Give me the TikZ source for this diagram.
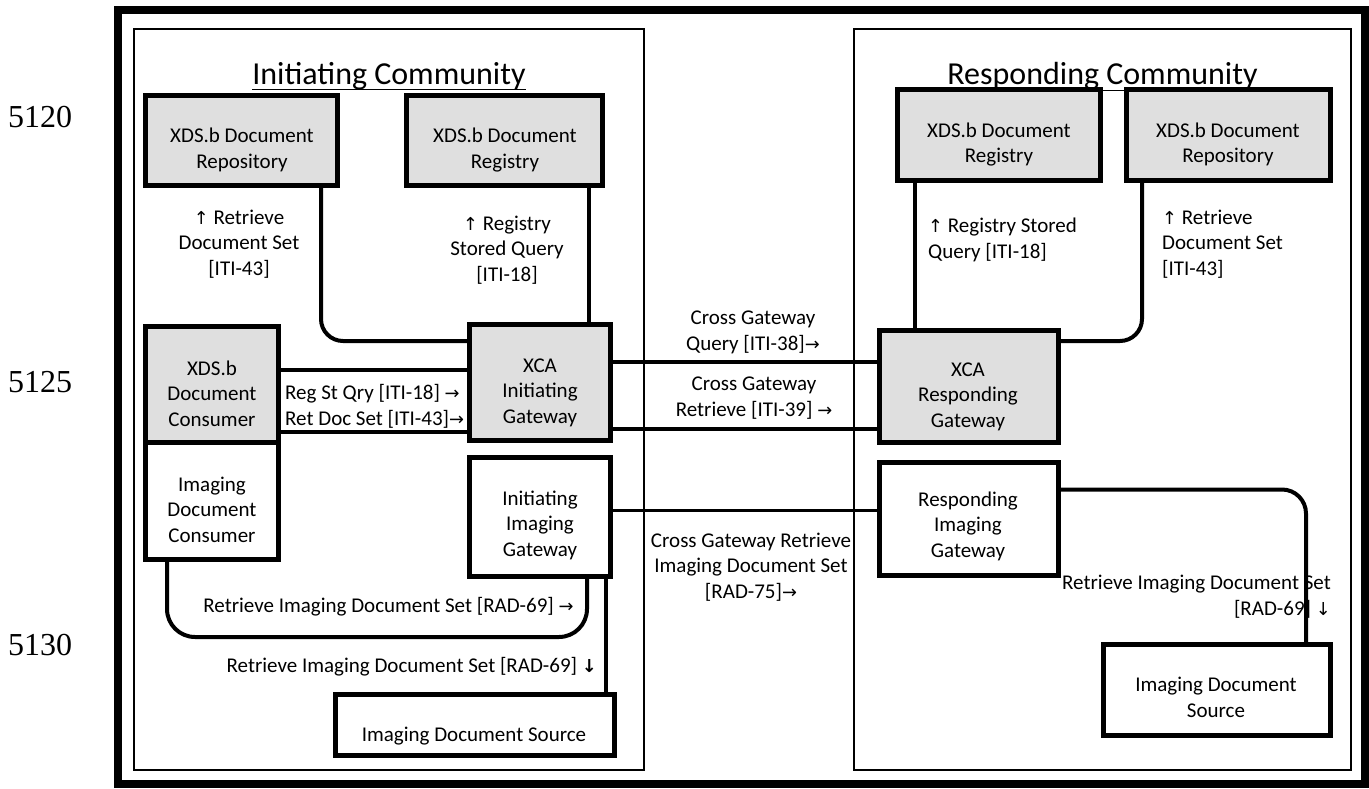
\documentclass[tikz,border=0pt]{standalone}
\usepackage{fontspec}
\setmainfont{Carlito}
\newfontfamily\arr{DejaVu Sans}[Scale=0.85]
\newfontfamily\lnumfont{Liberation Serif}
\definecolor{boxgray}{RGB}{223,223,223}
\begin{document}
\begin{tikzpicture}[x=1pt,y=-1pt,
 frame/.style={draw=black,line width=8pt},
 comm/.style={draw=black,line width=1.5pt},
 actor/.style={draw=black,line width=5pt,inner sep=0pt,outer sep=0pt},
 grayactor/.style={actor,fill=boxgray},
 whiteactor/.style={actor,fill=white},
 conn/.style={draw=black,line width=4pt},
 thinconn/.style={draw=black,line width=3pt},
 txt/.style={inner sep=0pt,font=\fontsize{21}{25.5}\selectfont,anchor=base},
 ctxt/.style={txt,align=center},
 ltxt/.style={txt,align=left,anchor=base west},
 rtxt/.style={txt,align=right,anchor=base east},
 titletxt/.style={inner sep=0pt,font=\fontsize{32}{38}\selectfont,anchor=base},
 linenum/.style={inner sep=0pt,font=\lnumfont\fontsize{32}{38}\selectfont,anchor=base west}]
\useasboundingbox (0,0) rectangle (1369,789);
\fill[white] (0,0) rectangle (1369,789);

% line numbers
\node[linenum] (n5120) at (8,128) {5120};
\node[linenum] (n5125) at (8,392) {5125};
\node[linenum] (n5130) at (8,655) {5130};

% frame and communities
\draw[frame] (117.5,10) rectangle (1364.5,783.5);
\draw[comm] (134,29) rectangle (644,770);
\draw[comm] (854,29) rectangle (1351,770);

% titles
\begin{scope}
\clip (200,35) rectangle (600,89.5);
\node[titletxt] (ttlI) at (389,85) {Initiating Community};
\end{scope}
\draw[line width=1.3pt] ([yshift=-4.5pt]ttlI.base west) -- ([yshift=-4.5pt]ttlI.base east);
\begin{scope}
\clip (900,35) rectangle (1300,90.5);
\node[titletxt] (ttlR) at (1102.5,85) {Responding Community};
\end{scope}
\draw[line width=1.3pt] ([yshift=-5.5pt]ttlR.base west) -- ([yshift=-5.5pt]ttlR.base east);

% actor boxes
\node[grayactor,minimum width=192pt,minimum height=90pt] (repoL) at (241.5,140.5) {};
\node[grayactor,minimum width=196pt,minimum height=90pt] (regL) at (504.5,140.5) {};
\node[grayactor,minimum width=133pt,minimum height=115.5pt] (consL) at (212,384.25) {};
\node[whiteactor,minimum width=133pt,minimum height=117.5pt] (idcL) at (212,500.75) {};
\node[grayactor,minimum width=141pt,minimum height=116pt] (xcaI) at (540,382.5) {};
\node[whiteactor,minimum width=141pt,minimum height=119pt] (iigw) at (540,517) {};
\node[whiteactor,minimum width=279pt,minimum height=61pt] (idsL) at (475,725) {};
\node[grayactor,minimum width=203pt,minimum height=91pt] (regR) at (999,135) {};
\node[grayactor,minimum width=204pt,minimum height=91pt] (repoR) at (1228.5,135) {};
\node[grayactor,minimum width=179pt,minimum height=112pt] (xcaR) at (969,386.5) {};
\node[whiteactor,minimum width=179pt,minimum height=113pt] (rigw) at (969,519) {};
\node[whiteactor,minimum width=227pt,minimum height=91pt] (idsR) at (1217,690) {};

% connectors
\draw[conn,rounded corners=22pt] (repoL.south -| 321,0) |- (xcaI.west |- 0,341);
\draw[conn] (regL.south -| 589,0) -- (xcaI.north -| 589,0);
\draw[conn] (consL.east |- 0,370) -- (xcaI.west |- 0,370);
\draw[conn] (consL.east |- 0,432) -- (xcaI.west |- 0,432);
\draw[conn] (xcaI.east |- 0,362) -- (xcaR.west |- 0,362);
\draw[conn] (xcaI.east |- 0,429) -- (xcaR.west |- 0,429);
\draw[thinconn] (iigw.east |- 0,510) -- (rigw.west |- 0,510);
\draw[conn,rounded corners=28pt] (idcL.south -| 167,0) |- (587,637) -- (iigw.south -| 587,0);
\draw[conn] (iigw.south -| 606,0) -- (idsL.north -| 606,0);
\draw[conn] (regR.south -| 915,0) -- (xcaR.north -| 915,0);
\draw[conn,rounded corners=22pt] (repoR.south -| 1142,0) |- (xcaR.east |- 0,341);
\draw[conn,rounded corners=24pt] (rigw.east |- 0,489.5) -| (idsR.north -| 1306,0);

% box texts (anchor = baseline of last line)
\node[ctxt] (repoLt) at (242,168) {XDS.b Document\\Repository};
\node[ctxt] (regLt) at (505,168) {XDS.b Document\\Registry};
\node[ctxt] (consLt) at (212,426) {XDS.b\\Document\\Consumer};
\node[ctxt] (idcLt) at (212,542) {Imaging\\Document\\Consumer};
\node[ctxt] (xcaIt) at (540,423) {XCA\\Initiating\\Gateway};
\node[ctxt] (iigwt) at (540,556) {Initiating\\Imaging\\Gateway};
\node[ctxt] (idsLt) at (474,741) {Imaging Document Source};
\node[ctxt] (regRt) at (999,163) {XDS.b Document\\Registry};
\node[ctxt] (repoRt) at (1228,163) {XDS.b Document\\Repository};
\node[ctxt] (xcaRt) at (968,427) {XCA\\Responding\\Gateway};
\node[ctxt] (rigwt) at (968,557) {Responding\\Imaging\\Gateway};
\node[ctxt] (idsRt) at (1216,717) {Imaging Document\\Source};

% transaction labels
\node[ctxt] (lblA) at (239,275) {{\arr ↑} Retrieve\\Document Set\\{[ITI-43]}};
\node[ctxt] (lblB) at (507,281) {{\arr ↑} Registry\\Stored Query\\{[ITI-18]}};
\node[ltxt] (lblC) at (285,425) {Reg St Qry [ITI-18] {\arr →}\\Ret Doc Set [ITI-43]{\arr →}};
\node[ctxt] (lblD) at (753,350) {Cross Gateway\\Query [ITI-38]{\arr →}};
\node[ctxt] (lblE) at (754,416) {Cross Gateway\\Retrieve [ITI-39] {\arr →}};
\node[ctxt] (lblF) at (751,598) {Cross Gateway Retrieve\\Imaging Document Set\\{[RAD-75]}{\arr →}};
\node[ltxt] (lblG) at (928,258) {{\arr ↑} Registry Stored\\Query [ITI-18]};
\node[ltxt] (lblH) at (1162,275) {{\arr ↑} Retrieve\\Document Set\\{[ITI-43]}};
\node[ctxt] (lblI) at (388.5,612) {Retrieve Imaging Document Set [RAD-69] {\arr →}};
\node[rtxt] (lblJ) at (597,672) {Retrieve Imaging Document Set [RAD-69] {\arr\bfseries ↓}};
\node[rtxt] (lblK) at (1331,615) {Retrieve Imaging Document Set\\{[RAD-69]} {\arr ↓}};
\end{tikzpicture}
\end{document}
